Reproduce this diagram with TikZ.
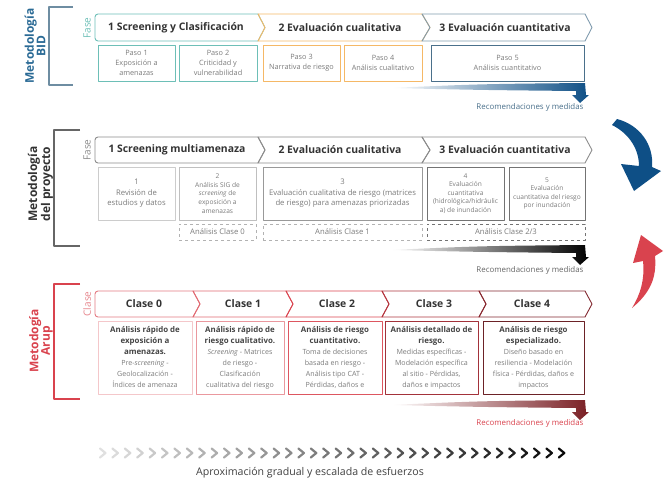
\documentclass[tikz,border=0pt]{standalone}
\usepackage{fontspec}
\setmainfont{Open Sans}
\definecolor{bidteal}{HTML}{6DBFB7}
\definecolor{bidorange}{HTML}{F5B866}
\definecolor{bidslate}{HTML}{4A708B}
\definecolor{bidblue}{HTML}{2A6A95}
\definecolor{arrowblue}{HTML}{0E4F86}
\definecolor{projgray}{HTML}{8C8C8C}
\definecolor{arupred}{HTML}{D9434E}
\definecolor{arrowred}{HTML}{7A1F24}
\definecolor{txtgray}{HTML}{7A7A7A}
\definecolor{titlegray}{HTML}{333333}
\definecolor{boldgray}{HTML}{444444}
\newcommand{\aruphd}[1]{\textcolor{boldgray}{\fontsize{7.9}{11}\selectfont\bfseries #1}}
\begin{document}
\begin{tikzpicture}[x=1pt,y=-1pt,line join=round,
	phase/.style={font=\fontsize{10.4}{12}\selectfont\bfseries,text=titlegray},
	side/.style={rotate=90,align=center,inner sep=0,font=\fontsize{12}{11.5}\selectfont\bfseries},
	tag/.style={rotate=90,font=\fontsize{10}{11}\selectfont},
	stepbox/.style={draw,line width=1,inner sep=0,align=center,text=txtgray},
	bidtxt/.style={font=\fontsize{7.3}{10.3}\selectfont},
	small/.style={font=\fontsize{7.7}{10.4}\selectfont},
	tiny/.style={font=\fontsize{6.6}{8.6}\selectfont},
	aruptxt/.style={font=\fontsize{7.1}{11}\selectfont},
	reco/.style={anchor=east,font=\fontsize{7.9}{9}\selectfont}]
	\useasboundingbox (0,0) rectangle (664,485);
	\node[side,text=bidblue] (lbid) at (35,46) {Metodología\\BID};
	\draw[bidslate!80,line width=1.3] (73,7) -- (49,7) -- (49,85) -- (73,85);
	\node[tag,text=bidteal] (fase1) at (87,28) {Fase};
	\draw[bidteal,line width=0.9] (258,41) -- (265,27.5) -- (258,14) [rounded corners=3]-- (95,14) -- (95,41) -- (258,41);
	\draw[bidorange,line width=0.9] (258,14) -- (422,14) -- (430,27.5) -- (422,41) -- (258,41) -- (265,27.5) -- cycle;
	\draw[bidslate!70,line width=0.9] (422,14) -- (585,14) -- (592,27.5) -- (585,41) -- (422,41) -- (430,27.5) -- cycle;
	\node[phase] (fb1) at (176,28) {1 Screening y Clasificación};
	\node[phase] (fb2) at (340,28) {2 Evaluación cualitativa};
	\node[phase] (fb3) at (505,28) {3 Evaluación cuantitativa};
	\node[stepbox,bidtxt,draw=bidteal,minimum width=77,minimum height=36] (paso1) at (136.5,63) {Paso 1\\Exposición a\\amenazas};
	\node[stepbox,bidtxt,draw=bidteal,minimum width=78,minimum height=36] (paso2) at (218,63) {Paso 2\\Criticidad y\\vulnerabilidad};
	\node[stepbox,bidtxt,draw=bidorange,minimum width=77,minimum height=36] (paso3) at (301.5,63) {Paso 3\\Narrativa de riesgo};
	\node[stepbox,bidtxt,draw=bidorange,minimum width=78,minimum height=36] (paso4) at (383,63) {Paso 4\\Análisis cualitativo};
	\node[stepbox,bidtxt,draw=bidslate,minimum width=153,minimum height=36] (paso5) at (507.5,63) {Paso 5\\Análisis cuantitativo};
	\node[side,text=titlegray] (lproj) at (40.5,184) {Metodología\\del proyecto};
	\draw[black!60,line width=1.3] (80,130) -- (54,130) -- (54,246) -- (80,246);
	\node[tag,text=projgray] (fase2) at (87,150) {Fase};
	\draw[projgray,line width=0.9] (258,163) -- (265,150) -- (258,137) [rounded corners=3]-- (95,137) -- (95,163) -- (258,163);
	\draw[projgray,line width=0.9] (258,137) -- (422,137) -- (430,150) -- (422,163) -- (258,163) -- (265,150) -- cycle;
	\draw[projgray,line width=0.9] (422,137) -- (585,137) -- (592,150) -- (585,163) -- (422,163) -- (430,150) -- cycle;
	\node[phase] (fp1) at (177,150) {1 Screening multiamenaza};
	\node[phase] (fp2) at (340,150) {2 Evaluación cualitativa};
	\node[phase] (fp3) at (505,150) {3 Evaluación cuantitativa};
	\node[stepbox,small,draw=black!20,minimum width=77,minimum height=53] (rev) at (136.5,193.5) {1\\Revisión de\\estudios y datos};
	\node[stepbox,tiny,draw=black!25,minimum width=77,minimum height=53] (sig) at (217.5,193.5) {2\\Análisis SIG de\\\textit{screening} de\\exposición a\\amenazas};
	\node[stepbox,small,draw=black!40,minimum width=159,minimum height=53] (cual) at (342.5,193.5) {3\\Evaluación cualitativa de riesgo (matrices\\de riesgo) para amenazas priorizadas};
	\node[stepbox,tiny,draw=black!55,minimum width=77,minimum height=53] (hid) at (465.5,193.5) {4\\Evaluación\\cuantitativa\\(hidrológica/hidráulic\\a) de inundación};
	\node[stepbox,tiny,draw=black!55,minimum width=76,minimum height=53] (inu) at (547,193.5) {5\\Evaluación\\cuantitativa del riesgo\\por inundación};
	\node[stepbox,small,dashed,draw=black!30,minimum width=77,minimum height=16] (cl0) at (217.5,232) {Análisis Clase 0};
	\node[stepbox,small,dashed,draw=black!30,minimum width=159,minimum height=16] (cl1) at (342.5,232) {Análisis Clase 1};
	\node[stepbox,small,dashed,draw=black!55,minimum width=158,minimum height=16] (cl23) at (506,232) {Análisis Clase 2/3};
	\node[side,text=arupred] (larup) at (41,341) {Metodogía\\Arup};
	\draw[arupred,line width=1.3] (80,284) -- (54,284) -- (54,399) -- (80,399);
	\node[tag,text=arupred!65] (clase) at (87,304) {Clase};
	\draw[arupred!70,line width=0.9] (193,317) -- (200,304) -- (193,291) [rounded corners=3]-- (95,291) -- (95,317) -- (193,317);
	\foreach \xa/\xb/\col in {193/286/arupred!80,286/382/arupred,382/479/arupred!80!black,479/585/arupred!60!black}
		\draw[\col,line width=0.9] (\xa,291) -- (\xb,291) -- ({\xb+7},304) -- (\xb,317) -- (\xa,317) -- ({\xa+7},304) -- cycle;
	\foreach \cx [count=\k from 0] in {144,243,337,434,532}
		\node[phase] (cls\k) at (\cx,304) {Clase \k};
	\node[stepbox,aruptxt,draw=arupred!30,minimum width=94,minimum height=73] (ar0) at (145,357.5) {\aruphd{Análisis rápido de}\\\aruphd{exposición a}\\\aruphd{amenazas.}\\Pre-\textit{screening} -\\Geolocalización -\\Índices de amenaza};
	\node[stepbox,aruptxt,draw=arupred!55,minimum width=88,minimum height=73] (ar1) at (240,357.5) {\aruphd{Análisis rápido de}\\\aruphd{riesgo cualitativo.}\\\textit{Screening} - Matrices\\de riesgo -\\Clasificación\\cualitativa del riesgo};
	\node[stepbox,aruptxt,draw=arupred!90,minimum width=94,minimum height=73] (ar2) at (335,357.5) {\aruphd{Análisis de riesgo}\\\aruphd{cuantitativo.}\\Toma de decisiones\\basada en riesgo -\\Análisis tipo CAT -\\Pérdidas, daños e};
	\node[stepbox,aruptxt,draw=arupred!75!black,minimum width=93,minimum height=73] (ar3) at (431.5,357.5) {\aruphd{Análisis detallado de}\\\aruphd{riesgo.}\\Medidas específicas -\\Modelación específica\\al sitio - Pérdidas,\\daños e impactos};
	\node[stepbox,aruptxt,draw=arupred!50!black,minimum width=101,minimum height=73] (ar4) at (533.5,357.5) {\aruphd{Análisis de riesgo}\\\aruphd{especializado.}\\Diseño basado en\\resiliencia - Modelación\\física - Pérdidas, daños e\\impactos};
	\foreach \dy/\col in {0/arrowblue,162/black,317/arrowred}
		\shade[left color=white,right color=\col] (390,{88+\dy}) .. controls (480,{84+\dy}) .. (585,{83+\dy}) -- (586,{95+\dy}) -- (589,{95+\dy}) -- (580,{103+\dy}) -- (572,{95+\dy}) -- (576,{95+\dy}) -- (576,{91+\dy}) .. controls (480,{90+\dy}) .. (390,{88+\dy}) -- cycle;
	\node[reco,text=bidslate] (rec1) at (587,107) {Recomendaciones y medidas};
	\node[reco,text=black!60] (rec2) at (587,270) {Recomendaciones y medidas};
	\node[reco,text=arupred] (rec3) at (587,423) {Recomendaciones y medidas};
	\fill[arrowblue] (617,119) .. controls (640,125) and (654,145) .. (652,167) -- (661,171) -- (634,191) -- (621,164) -- (639,166) .. controls (639,150) and (630,134) .. (612,125) -- cycle;
	\fill[arupred] (632,308) .. controls (650,293) and (657,278) .. (655,256) -- (663,251) -- (641,235) -- (633,263) -- (643,261) .. controls (645,280) and (640,295) .. (632,308) -- cycle;
	\foreach \i in {0,...,37}{
		\pgfmathtruncatemacro\tone{12+85*\i/37}
		\draw[black!\tone,line width=2.2,line cap=round] ({100+12.4*\i},448.5) -- ({105.5+12.4*\i},453) -- ({100+12.4*\i},457.5);
	}
	\node[font=\fontsize{10.6}{12}\selectfont,text=black!75] (aprox) at (310,473) {Aproximación gradual y escalada de esfuerzos};
\end{tikzpicture}
\end{document}
